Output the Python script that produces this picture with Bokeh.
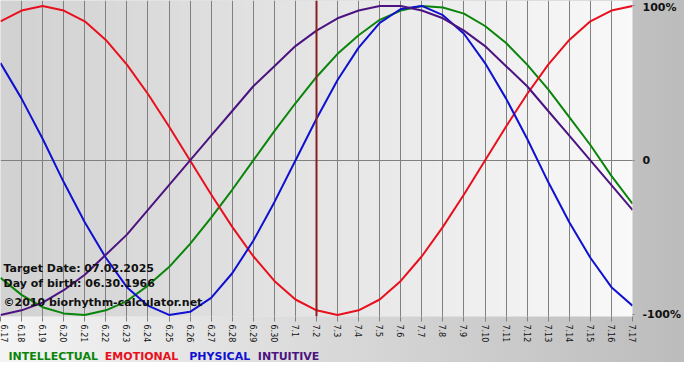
import math
import numpy as np
from bokeh.plotting import figure
from bokeh.layouts import column
from bokeh.models import Range1d, FixedTicker, Span, Label
from bokeh.core.properties import value
from bokeh.embed import file_html
from bokeh.resources import INLINE

# ---- data ----
day_labels = ["6.17", "6.18", "6.19", "6.20", "6.21", "6.22", "6.23", "6.24", "6.25",
              "6.26", "6.27", "6.28", "6.29", "6.30", "7.1", "7.2", "7.3", "7.4", "7.5",
              "7.6", "7.7", "7.8", "7.9", "7.10", "7.11", "7.12", "7.13", "7.14", "7.15",
              "7.16", "7.17"]
target_day = "7.2"

intellectual = [-0.76, -0.87, -0.95, -0.99, -1.00, -0.97, -0.91, -0.81, -0.69, -0.54,
                -0.37, -0.19, 0.00, 0.19, 0.37, 0.54, 0.69, 0.81, 0.91, 0.97,
                1.00, 0.99, 0.95, 0.87, 0.76, 0.62, 0.46, 0.28, 0.10, -0.10, -0.28]
emotional = [0.90, 0.97, 1.00, 0.97, 0.90, 0.78, 0.62, 0.43, 0.22, 0.00,
             -0.22, -0.43, -0.62, -0.78, -0.90, -0.97, -1.00, -0.97, -0.90, -0.78,
             -0.62, -0.43, -0.22, 0.00, 0.22, 0.43, 0.62, 0.78, 0.90, 0.97, 1.00]
physical = [0.63, 0.40, 0.14, -0.14, -0.40, -0.63, -0.82, -0.94, -1.00, -0.98,
            -0.89, -0.73, -0.52, -0.27, 0.00, 0.27, 0.52, 0.73, 0.89, 0.98,
            1.00, 0.94, 0.82, 0.63, 0.40, 0.14, -0.14, -0.40, -0.63, -0.82, -0.94]
intuitive = [-1.00, -0.97, -0.92, -0.84, -0.74, -0.61, -0.48, -0.32, -0.16, 0.00,
             0.16, 0.32, 0.48, 0.61, 0.74, 0.84, 0.92, 0.97, 1.00, 1.00,
             0.97, 0.92, 0.84, 0.74, 0.61, 0.48, 0.32, 0.16, 0.00, -0.16, -0.32]

y_ticks = [-1, 0, 1]
y_tick_labels = ["-100%", "0", "100%"]

series_names = ["INTELLECTUAL", "EMOTIONAL", "PHYSICAL", "INTUITIVE"]
series_colors = ["#0a850a", "#e8101c", "#1010d0", "#4c1480"]

info_lines = ["Target Date: 07.02.2025", "Day of birth: 06.30.1966",
              "\u00a92010 biorhythm-calculator.net"]

FONT = "DejaVu Sans"
GRADIENT = {"background": "linear-gradient(to right, #f4f4f4, #bcbcbc)"}
W = 684
RIGHT = 48
FRAME_W = W - RIGHT
x = list(range(len(day_labels)))

p = figure(width=W, height=348, output_backend="svg", toolbar_location=None,
           x_range=Range1d(0, len(day_labels) - 1), y_range=Range1d(-1.01, 1.035),
           y_axis_location="right",
           min_border_left=0, min_border_top=0, min_border_right=RIGHT, min_border_bottom=32)
p.border_fill_color = None
p.outline_line_color = None
p.background_fill_color = "#e6e6e6"
p.styles = GRADIENT

# plot-area background gradient (darker left, lighter right)
n = 128
g = np.linspace(210, 249, n).astype(np.uint8)
img = np.zeros((1, n), dtype=np.uint32)
view = img.view(dtype=np.uint8).reshape((1, n, 4))
view[..., 0] = g
view[..., 1] = g
view[..., 2] = g
view[..., 3] = 255
bg = p.image_rgba(image=[img], x=0, y=-1.01, dw=len(day_labels) - 1, dh=2.045)
bg.level = "image"

# x axis
p.xaxis.ticker = FixedTicker(ticks=x)
p.xaxis.major_label_overrides = {i: lab for i, lab in enumerate(day_labels)}
p.xaxis.major_label_orientation = -math.pi / 2
p.xaxis.major_label_text_font = FONT
p.xaxis.major_label_text_font_size = "8px"
p.xaxis.major_label_text_color = "#111111"
p.xaxis.major_label_standoff = 3
p.xaxis.axis_line_color = None
p.xaxis.major_tick_line_color = "#808080"
p.xaxis.major_tick_out = 5
p.xaxis.major_tick_in = 0
p.xaxis.minor_tick_line_color = None

# y axis (right)
p.yaxis.ticker = FixedTicker(ticks=y_ticks)
p.yaxis.major_label_overrides = {t: lab for t, lab in zip(y_ticks, y_tick_labels)}
p.yaxis.major_label_text_font = FONT
p.yaxis.major_label_text_font_size = "11px"
p.yaxis.major_label_text_font_style = "bold"
p.yaxis.major_label_text_color = "#111111"
p.yaxis.major_label_standoff = 8
p.yaxis.axis_line_color = None
p.yaxis.major_tick_line_color = "#808080"
p.yaxis.major_tick_out = 2
p.yaxis.major_tick_in = 0
p.yaxis.minor_tick_line_color = None

# grids
p.xgrid.grid_line_color = "#808080"
p.xgrid.grid_line_width = 1
p.xgrid.grid_line_alpha = 1.0
p.ygrid.ticker = FixedTicker(ticks=[0])
p.ygrid.grid_line_color = "#808080"
p.ygrid.grid_line_alpha = 1.0

# target date line
p.add_layout(Span(location=day_labels.index(target_day), dimension="height",
                  line_color="#8a1f1f", line_width=2))

# curves
for vals, col in zip([intellectual, emotional, physical, intuitive], series_colors):
    p.line(x, vals, line_color=col, line_width=2)

# info texts
for txt, yy in zip(info_lines, [48, 33, 14]):
    p.add_layout(Label(x=3, y=yy, x_units="screen", y_units="screen", text=txt,
                       text_font=FONT, text_font_size="11px", text_font_style="bold",
                       text_color="#111111", text_baseline="middle", text_align="left"))

# legend strip below the chart (its frame is aligned with the chart's frame)
leg = figure(width=W, height=14, output_backend="svg", toolbar_location=None,
             x_range=Range1d(0, FRAME_W), y_range=Range1d(0, 1),
             x_axis_type=None, y_axis_type=None, min_border=0)
leg.border_fill_color = None
leg.background_fill_color = None
leg.outline_line_color = None
leg.grid.visible = False
leg.styles = GRADIENT
leg.text(x=[8, 105, 190, 259], y=[0.45] * len(series_names), text=series_names,
         text_color=series_colors, text_font=value(FONT), text_font_style="bold",
         text_font_size="11px", text_baseline="middle", text_align="left")

layout = column(p, leg, spacing=0)
open("out.html", "w").write(file_html(layout, INLINE))
